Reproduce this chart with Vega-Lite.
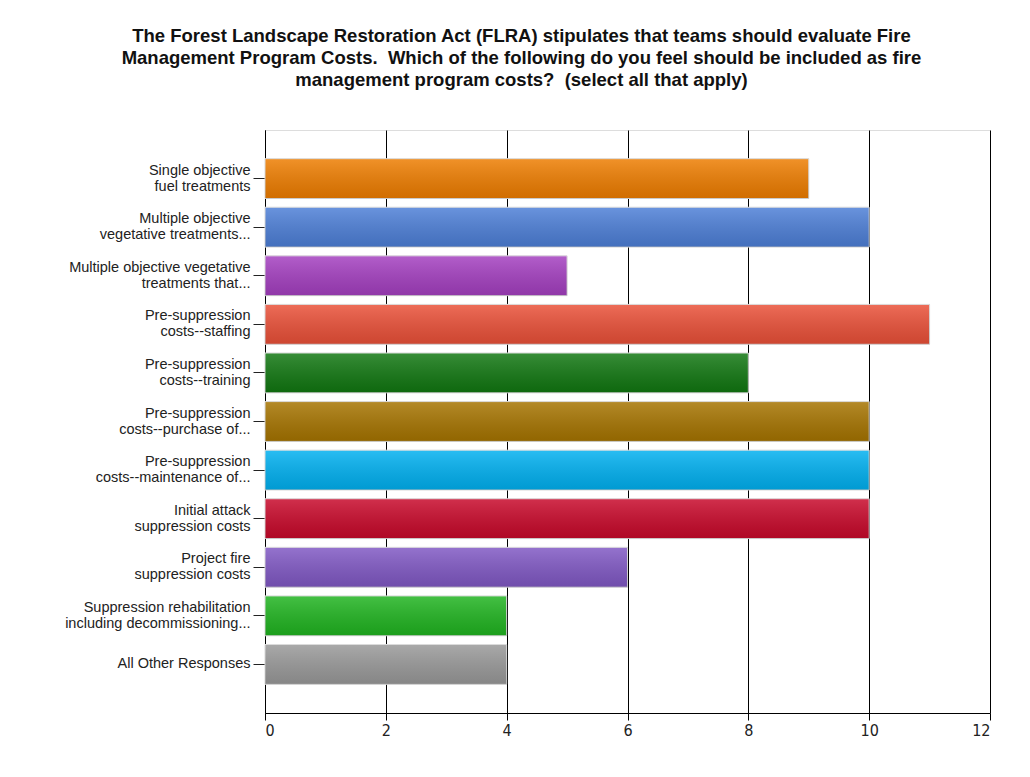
{
  "$schema": "https://vega.github.io/schema/vega-lite/v6.json",
  "autosize": {"type": "none"},
  "padding": {"left": 265, "top": 130, "right": 40, "bottom": 64},
  "width": 725,
  "height": 583,
  "background": "#ffffff",
  "title": {
    "text": [
      "The Forest Landscape Restoration Act (FLRA) stipulates that teams should evaluate Fire",
      "Management Program Costs.\u00a0 Which of the following do you feel should be included as fire",
      "management program costs?\u00a0 (select all that apply)"
    ],
    "anchor": "middle",
    "frame": "group",
    "dx": -106,
    "offset": 41,
    "font": "Liberation Sans",
    "fontSize": 18.5,
    "fontWeight": "bold",
    "color": "#111111",
    "lineHeight": 22
  },
  "data": {
    "values": [
      {"label": "Single objective|fuel treatments", "count": 9},
      {"label": "Multiple objective|vegetative treatments...", "count": 10},
      {"label": "Multiple objective vegetative|treatments that...", "count": 5},
      {"label": "Pre-suppression|costs--staffing", "count": 11},
      {"label": "Pre-suppression|costs--training", "count": 8},
      {"label": "Pre-suppression|costs--purchase of...", "count": 10},
      {"label": "Pre-suppression|costs--maintenance of...", "count": 10},
      {"label": "Initial attack|suppression costs", "count": 10},
      {"label": "Project fire|suppression costs", "count": 6},
      {"label": "Suppression rehabilitation|including decommissioning...", "count": 4},
      {"label": "All Other Responses", "count": 4}
    ]
  },
  "encoding": {
    "y": {
      "field": "label",
      "type": "nominal",
      "sort": null,
      "title": null,
      "scale": {"paddingInner": 0.18, "paddingOuter": 0.59},
      "axis": {
        "labelExpr": "split(datum.label, '|')",
        "labelFont": "Liberation Sans",
        "labelFontSize": 14.5,
        "labelColor": "#222222",
        "labelLineHeight": 16,
        "labelOffset": {"condition": {"test": "indexof(datum.value, '|') >= 0", "value": -8}, "value": 0},
        "tickSize": 12,
        "tickColor": "#222222",
        "labelPadding": 3,
        "domainColor": "#000000",
        "grid": false,
        "labelLimit": 300
      }
    },
    "x": {
      "field": "count",
      "type": "quantitative",
      "title": null,
      "scale": {"domain": [0, 12], "nice": false},
      "axis": {
        "values": [0, 2, 4, 6, 8, 10, 12],
        "grid": true,
        "gridColor": "#000000",
        "gridOpacity": 1,
        "gridWidth": 1,
        "domainColor": "#000000",
        "tickColor": "#000000",
        "tickSize": 7,
        "labelFont": "DejaVu Sans Condensed, Liberation Sans",
        "labelFontSize": 16,
        "labelColor": "#222222",
        "labelPadding": 2
      }
    }
  },
  "layer": [
    {
      "mark": {"type": "bar", "stroke": "#d8d8d8", "strokeWidth": 1},
      "encoding": {
        "color": {
          "field": "label",
          "type": "nominal",
          "legend": null,
          "scale": {
            "domain": [
              "Single objective|fuel treatments",
              "Multiple objective|vegetative treatments...",
              "Multiple objective vegetative|treatments that...",
              "Pre-suppression|costs--staffing",
              "Pre-suppression|costs--training",
              "Pre-suppression|costs--purchase of...",
              "Pre-suppression|costs--maintenance of...",
              "Initial attack|suppression costs",
              "Project fire|suppression costs",
              "Suppression rehabilitation|including decommissioning...",
              "All Other Responses"
            ],
            "range": ["#EE7D00", "#4D7FD7", "#A43FC0", "#EA5038", "#117711", "#A67400", "#00B0F0", "#C8082A", "#8058C4", "#20B420", "#999999"]
          }
        }
      }
    },
    {
      "mark": {
        "type": "bar",
        "color": {
          "gradient": "linear",
          "x1": 0, "y1": 0, "x2": 0, "y2": 1,
          "stops": [
            {"offset": 0, "color": "rgba(255,255,255,0.16)"},
            {"offset": 1, "color": "rgba(0,0,0,0.12)"}
          ]
        }
      }
    }
  ]
}
